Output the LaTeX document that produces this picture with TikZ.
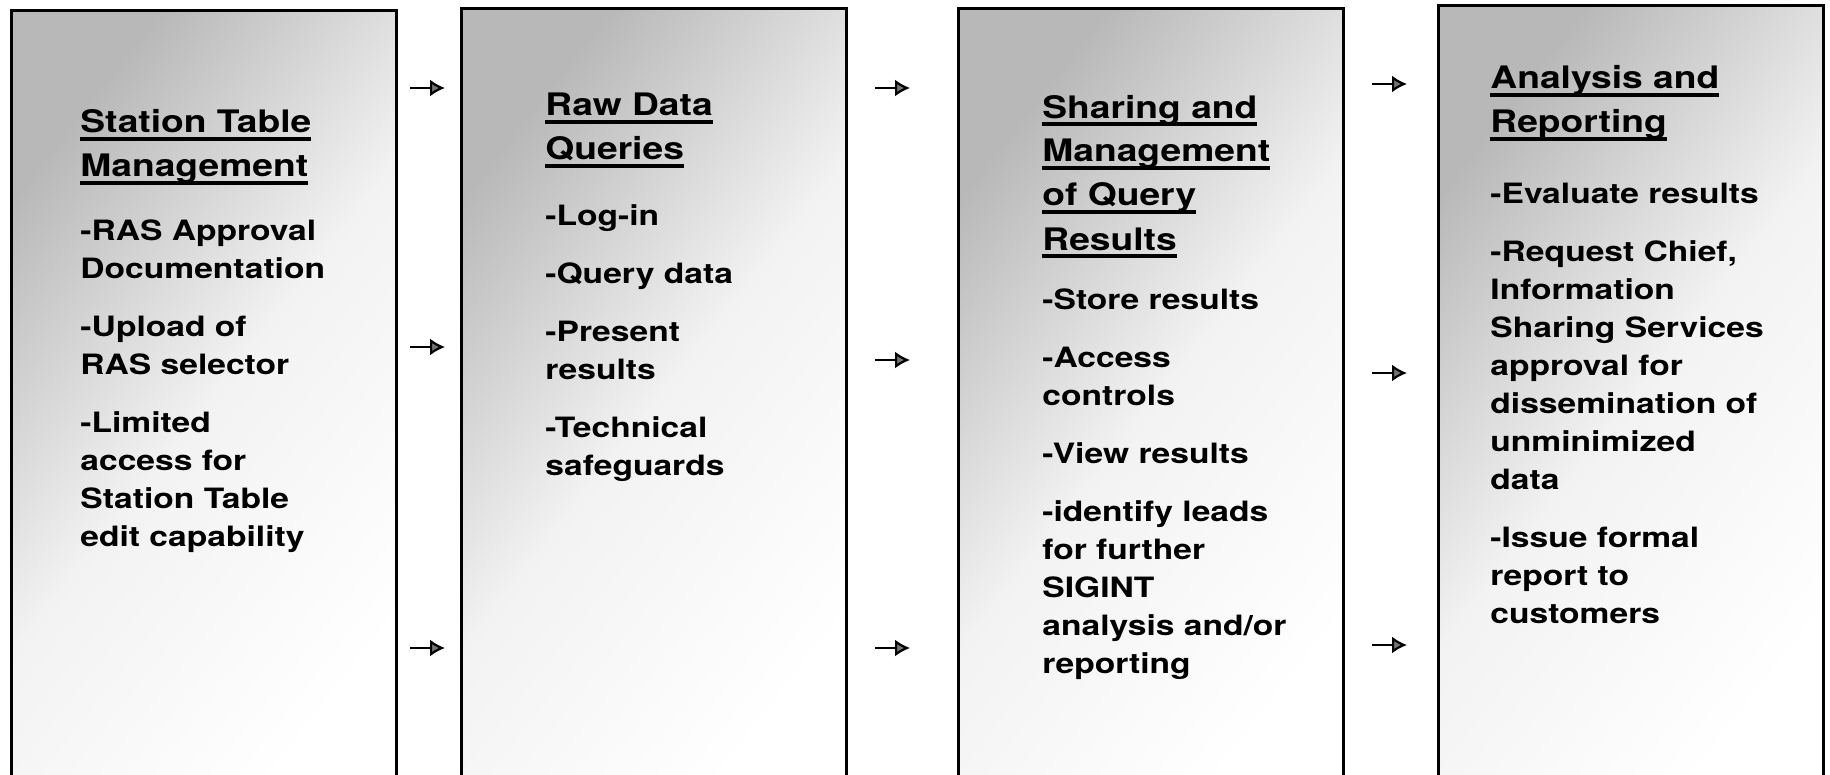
\documentclass[tikz,border=0pt]{standalone}
\usepackage{fontspec}
\setmainfont[FakeStretch=1.2]{TeX Gyre Heros}
\usetikzlibrary{arrows.meta,positioning}

% underlined title line
\newsavebox\ttlbox
\newcommand\ulttl[1]{\sbox\ttlbox{#1}\rlap{\rule[-4pt]{\wd\ttlbox}{2pt}}\usebox\ttlbox}

\tikzset{
  panel/.style={draw=black,line width=1.5pt,inner sep=0pt,anchor=north west,
    minimum width=192.5pt,minimum height=400pt,
    top color=black!28,bottom color=white,middle color=black!5,shading angle=52},
  ttl/.style={anchor=base west,inner sep=0pt,align=left,
    font=\bfseries\fontsize{15.5}{22}\selectfont},
  itm/.style={anchor=base west,inner sep=0pt,align=left,
    font=\bfseries\fontsize{14}{19}\selectfont},
  flow/.style={line width=1.1pt,
    -{Latex[length=7.5pt,width=8.5pt,fill=black!55]}}
}

\begin{document}
\begin{tikzpicture}[x=0.5pt,y=-0.5pt]
  \useasboundingbox (0,0) rectangle (1830,775);
  \fill[white] (0,0) rectangle (1830,775);

  % the four stages
  \node[panel] (st) at (10,9) {};
  \node[panel] (raw) at (460,7) {};
  \node[panel] (share) at (957,7) {};
  \node[panel] (rep) at (1437,4) {};

  % station table (placed at the baseline of the last line)
  \node[ttl] (sttitle) at (80,177) {\ulttl{Station Table}\\\ulttl{Management}};
  \node[itm] (stbody) at (80,546) {-RAS Approval\\Documentation\\[10pt]
    -Upload of\\RAS selector\\[10pt]
    -Limited\\access for\\Station Table\\edit capability};

  % raw data
  \node[ttl] (rawtitle) at (545,160) {\ulttl{Raw Data}\\\ulttl{Queries}};
  \node[itm] (rawbody) at (545,475) {-Log-in\\[10pt]
    -Query data\\[10pt]
    -Present\\results\\[10pt]
    -Technical\\safeguards};

  % sharing
  \node[ttl] (sharetitle) at (1042,250) {\ulttl{Sharing and}\\\ulttl{Management}\\\ulttl{of Query}\\\ulttl{Results}};
  \node[itm] (sharebody) at (1042,673) {-Store results\\[10pt]
    -Access\\controls\\[10pt]
    -View results\\[10pt]
    -identify leads\\for further\\SIGINT\\analysis and/or\\reporting};

  % reporting
  \node[ttl] (reptitle) at (1490,133) {\ulttl{Analysis and}\\\ulttl{Reporting}};
  \node[itm] (repbody) at (1490,623) {-Evaluate results\\[10pt]
    -Request Chief,\\Information\\Sharing Services\\approval for\\dissemination of\\unminimized\\data\\[10pt]
    -Issue formal\\report to\\customers};

  % arrows between the stages
  \coordinate (a1) at (410,88);   \coordinate (a1e) at (445,88);
  \coordinate (a2) at (410,347);  \coordinate (a2e) at (445,347);
  \coordinate (a3) at (410,648);  \coordinate (a3e) at (445,648);
  \coordinate (b1) at (875,88);   \coordinate (b1e) at (910,88);
  \coordinate (b2) at (875,360);  \coordinate (b2e) at (910,360);
  \coordinate (b3) at (875,648);  \coordinate (b3e) at (910,648);
  \coordinate (c1) at (1372,84);  \coordinate (c1e) at (1407,84);
  \coordinate (c2) at (1372,373); \coordinate (c2e) at (1407,373);
  \coordinate (c3) at (1372,645); \coordinate (c3e) at (1407,645);

  \draw[flow] (a1) -- (a1e);
  \draw[flow] (a2) -- (a2e);
  \draw[flow] (a3) -- (a3e);
  \draw[flow] (b1) -- (b1e);
  \draw[flow] (b2) -- (b2e);
  \draw[flow] (b3) -- (b3e);
  \draw[flow] (c1) -- (c1e);
  \draw[flow] (c2) -- (c2e);
  \draw[flow] (c3) -- (c3e);
\end{tikzpicture}
\end{document}
